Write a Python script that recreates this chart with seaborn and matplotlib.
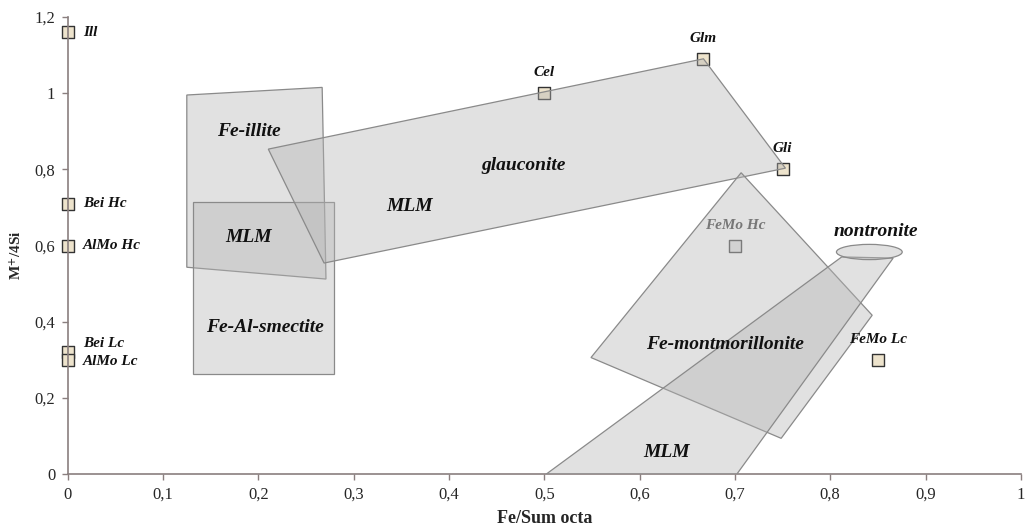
import numpy as np
import pandas as pd
import matplotlib
matplotlib.use("Agg")
import matplotlib.pyplot as plt
from matplotlib.patches import Polygon, Ellipse
import seaborn as sns

# ---- data ----
point_names = ["Ill", "Bei Hc", "AlMo Hc", "Bei Lc", "AlMo Lc", "Cel", "Glm", "Gli", "FeMo Hc", "FeMo Lc"]
point_x = [0.0, 0.0, 0.0, 0.0, 0.0, 0.5, 0.667, 0.75, 0.70, 0.85]
point_y = [1.16, 0.71, 0.60, 0.32, 0.30, 1.00, 1.09, 0.80, 0.60, 0.30]

fe_illite_x = [0.125, 0.267, 0.271, 0.125]
fe_illite_y = [0.995, 1.015, 0.512, 0.543]
fe_al_smectite_x = [0.131, 0.279, 0.279, 0.131]
fe_al_smectite_y = [0.262, 0.262, 0.715, 0.715]
glauconite_x = [0.2105, 0.667, 0.753, 0.269]
glauconite_y = [0.853, 1.09, 0.803, 0.554]
fe_mont_x = [0.7065, 0.844, 0.7485, 0.549]
fe_mont_y = [0.791, 0.417, 0.094, 0.306]
mlm_band_x = [0.502, 0.812, 0.866, 0.702]
mlm_band_y = [0.0, 0.570, 0.567, 0.0]
nontronite_center = (0.841, 0.583)
nontronite_size = (0.069, 0.040)

x_ticks = [0, 0.1, 0.2, 0.3, 0.4, 0.5, 0.6, 0.7, 0.8, 0.9, 1.0]
x_ticklabels = ["0", "0,1", "0,2", "0,3", "0,4", "0,5", "0,6", "0,7", "0,8", "0,9", "1"]
y_ticks = [0, 0.2, 0.4, 0.6, 0.8, 1.0, 1.2]
y_ticklabels = ["0", "0,2", "0,4", "0,6", "0,8", "1", "1,2"]

sns.set_style("white")
plt.rcParams['font.family'] = ['Liberation Serif', 'DejaVu Serif']
plt.rcParams['mathtext.fontset'] = 'stix'

fig = plt.figure(figsize=(10.25, 5.28), dpi=100)
ax = fig.add_axes([0.066, 0.102, 0.930, 0.866])

df = pd.DataFrame({"x": point_x, "y": point_y, "name": point_names})
gray_pts = df["name"].isin(["FeMo Hc"])
sns.scatterplot(data=df[~gray_pts], x="x", y="y", marker="s", s=70,
                color="#ede3cc", edgecolor="#333333", linewidth=1.0, ax=ax, zorder=2, clip_on=False)
sns.scatterplot(data=df[gray_pts], x="x", y="y", marker="s", s=70,
                color="#e6e6e6", edgecolor="#555555", linewidth=1.0, ax=ax, zorder=2, clip_on=False)

fill_c = "#b4b4b4"
edge_c = "#8a8a8a"
for xs, ys in [(fe_illite_x, fe_illite_y), (fe_al_smectite_x, fe_al_smectite_y),
               (glauconite_x, glauconite_y), (fe_mont_x, fe_mont_y), (mlm_band_x, mlm_band_y)]:
    poly = Polygon(np.column_stack([xs, ys]), closed=True, facecolor=fill_c, alpha=0.4,
                   edgecolor="none", zorder=3)
    ax.add_patch(poly)
    poly2 = Polygon(np.column_stack([xs, ys]), closed=True, facecolor="none",
                    edgecolor=edge_c, linewidth=0.9, zorder=3)
    ax.add_patch(poly2)
ell = Ellipse(nontronite_center, nontronite_size[0], nontronite_size[1], facecolor=fill_c,
              alpha=0.4, edgecolor="none", zorder=3)
ax.add_patch(ell)
ax.add_patch(Ellipse(nontronite_center, nontronite_size[0], nontronite_size[1], facecolor="none",
                     edgecolor=edge_c, linewidth=0.9, zorder=3))

# region labels
rfont = dict(fontsize=14, fontweight="bold", fontstyle="italic", color="#111111",
             ha="center", va="center", zorder=5)
ax.text(0.190, 0.900, "Fe-illite", **rfont)
ax.text(0.190, 0.620, "MLM", **rfont)
ax.text(0.207, 0.386, "Fe-Al-smectite", **rfont)
ax.text(0.478, 0.810, "glauconite", **rfont)
ax.text(0.359, 0.703, "MLM", **rfont)
ax.text(0.690, 0.340, "Fe-montmorillonite", **rfont)
ax.text(0.628, 0.058, "MLM", **rfont)
ax.text(0.848, 0.636, "nontronite", **rfont)

# point labels
pfont = dict(fontsize=11, fontweight="bold", fontstyle="italic", color="#111111", zorder=5)
left_dy = {"Bei Lc": 6, "AlMo Lc": -1}
for nm, x, y in zip(point_names, point_x, point_y):
    if x == 0:
        ax.annotate(nm, (x, y), xytext=(11, left_dy.get(nm, 0)), textcoords="offset points",
                    ha="left", va="center", **pfont)
    else:
        kw = dict(pfont)
        if nm == "FeMo Hc":
            kw["color"] = "#777777"
        ax.annotate(nm, (x, y), xytext=(0, 10), textcoords="offset points",
                    ha="center", va="bottom", **kw)

ax.set_xlim(0, 1)
ax.set_ylim(0, 1.2)
ax.set_xticks(x_ticks)
ax.set_xticklabels(x_ticklabels)
ax.set_yticks(y_ticks)
ax.set_yticklabels(y_ticklabels)
ax.tick_params(axis="both", direction="out", length=4, width=1, color="#8a7f7f",
               labelsize=12, pad=5, bottom=True, left=True)
for s in ["top", "right"]:
    ax.spines[s].set_visible(False)
for s in ["left", "bottom"]:
    ax.spines[s].set_color("#8a7f7f")
    ax.spines[s].set_linewidth(1.2)
ax.set_xlabel("Fe/Sum octa", fontsize=13, fontweight="bold", va="center")
ax.set_ylabel(r"M$^{\mathbf{+}}$/4Si", fontsize=11, fontweight="bold", va="center")
ax.xaxis.set_label_coords(0.5, -0.098)
ax.yaxis.set_label_coords(-0.054, 0.479)

fig.savefig("out.png", dpi=100)
